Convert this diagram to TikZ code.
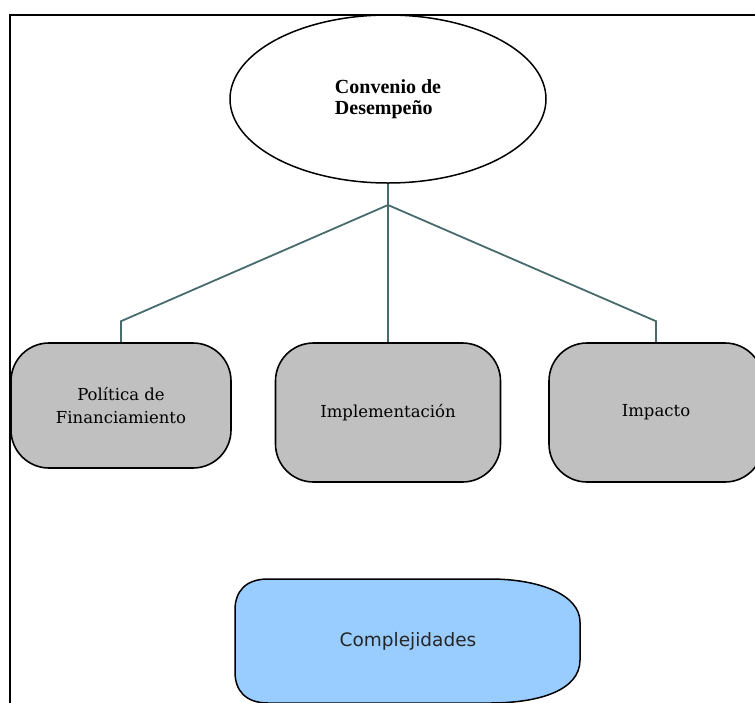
\documentclass[tikz,border=0pt]{standalone}
\usepackage{fontspec}
\setmainfont{Liberation Serif}
\newfontfamily\boxfont{DejaVu Serif}
\newfontfamily\cmplfont{DejaVu Sans}
\usepackage{xcolor}
\usepackage{tikz}
\usetikzlibrary{shapes.geometric}
\definecolor{linkgray}{RGB}{72,108,108}
\definecolor{boxgray}{RGB}{192,192,192}
\definecolor{cmplblue}{RGB}{153,204,255}

\begin{document}
\begin{tikzpicture}[x=1pt,y=-1pt,
	greybox/.style={shape=rectangle,draw=black,line width=1.6pt,fill=boxgray,rounded corners=38pt,inner sep=0pt,align=center,font=\boxfont\fontsize{16.5}{23}\selectfont},
	link/.style={draw=linkgray,line width=1.8pt}]
	\useasboundingbox (0,0) rectangle (755,702);
	\clip (0,0) rectangle (755,702);
	\fill[white] (0,0) rectangle (755,702);
	\draw[line width=2.2pt] (10,720) -- (10,15) -- (770,15);
	%	top of the tree
	\node (conv) at(388,99)[shape=ellipse,draw=black,line width=1.5pt,fill=white,minimum width=316pt,minimum height=168pt,inner sep=0pt,align=left,font=\bfseries\fontsize{20}{20.5}\selectfont]{Convenio de\\Desempeño};
	\coordinate (fork) at(388,205);
	%	the three branches
	\node (pol) at(121,405.5)[greybox,minimum width=220pt,minimum height=125pt]{Política de\\Financiamiento};
	\node (impl) at(388,412.5)[greybox,minimum width=225pt,minimum height=139pt]{Implementación};
	\node (imp) at(656,412.5)[greybox,minimum width=214pt,minimum height=139pt]{Impacto};
	\draw[link] (conv.south) -- (fork);
	\draw[link] (fork) -- (impl.north);
	\draw[link] (pol.north) -- ++(0,-21) -- (fork);
	\draw[link] (imp.north) -- ++(0,-21) -- (fork);
	%	bottom box
	\draw[line width=1.5pt,fill=cmplblue] (268,579) -- (490,579) .. controls (540,579) and (580,595) .. (580,622) -- (580,660) .. controls (580,690) and (540,703) .. (490,703) -- (268,703) .. controls (245,703) and (235,690) .. (235,672) -- (235,610) .. controls (235,592) and (245,579) .. (268,579) -- cycle;
	\node (cmpl) at(408,641)[font=\cmplfont\fontsize{18.5}{20}\selectfont,text=black!85]{Complejidades};
\end{tikzpicture}
\end{document}
